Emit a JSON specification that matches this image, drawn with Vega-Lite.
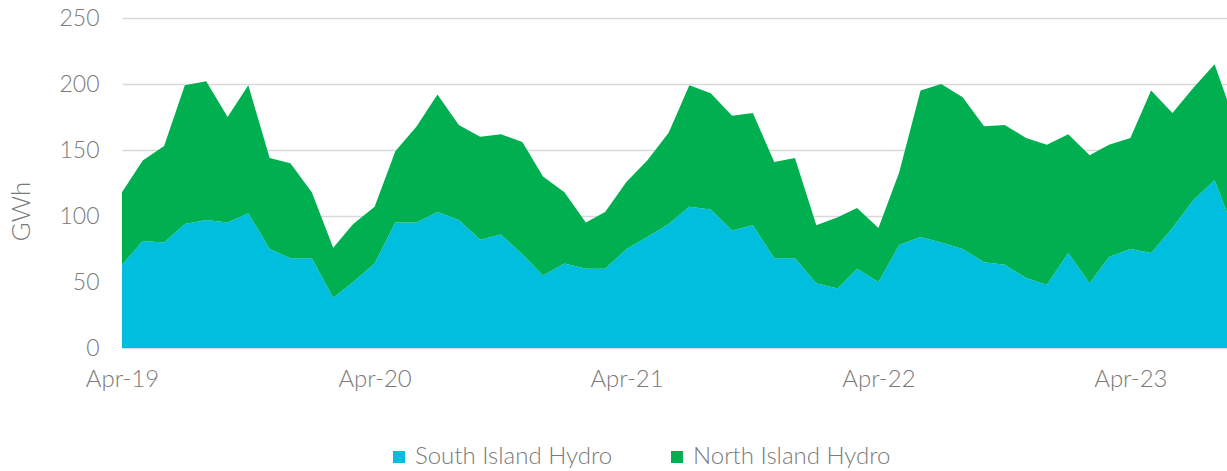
{
  "$schema": "https://vega.github.io/schema/vega-lite/v6.json",
  "autosize": {"type": "none"},
  "width": 1105,
  "height": 330,
  "padding": {"left": 122, "top": 18, "right": 0, "bottom": 123},
  "background": "white",
  "config": {
    "view": {"stroke": null},
    "font": "Lato",
    "axis": {"labelFont": "Lato", "labelFontWeight": 300, "labelColor": "#7a7a7a", "titleFont": "Lato", "titleFontWeight": 300, "titleColor": "#7a7a7a"},
    "legend": {"labelFont": "Lato", "labelFontWeight": 300, "labelColor": "#7a7a7a"}
  },
  "data": {
    "values": [
      {"month": "2019-04-01", "series": "South Island Hydro", "gwh": 63},
      {"month": "2019-05-01", "series": "South Island Hydro", "gwh": 81},
      {"month": "2019-06-01", "series": "South Island Hydro", "gwh": 80},
      {"month": "2019-07-01", "series": "South Island Hydro", "gwh": 94},
      {"month": "2019-08-01", "series": "South Island Hydro", "gwh": 97},
      {"month": "2019-09-01", "series": "South Island Hydro", "gwh": 95},
      {"month": "2019-10-01", "series": "South Island Hydro", "gwh": 102},
      {"month": "2019-11-01", "series": "South Island Hydro", "gwh": 75},
      {"month": "2019-12-01", "series": "South Island Hydro", "gwh": 68},
      {"month": "2020-01-01", "series": "South Island Hydro", "gwh": 68},
      {"month": "2020-02-01", "series": "South Island Hydro", "gwh": 38},
      {"month": "2020-03-01", "series": "South Island Hydro", "gwh": 50},
      {"month": "2020-04-01", "series": "South Island Hydro", "gwh": 64},
      {"month": "2020-05-01", "series": "South Island Hydro", "gwh": 95},
      {"month": "2020-06-01", "series": "South Island Hydro", "gwh": 95},
      {"month": "2020-07-01", "series": "South Island Hydro", "gwh": 103},
      {"month": "2020-08-01", "series": "South Island Hydro", "gwh": 97},
      {"month": "2020-09-01", "series": "South Island Hydro", "gwh": 82},
      {"month": "2020-10-01", "series": "South Island Hydro", "gwh": 86},
      {"month": "2020-11-01", "series": "South Island Hydro", "gwh": 71},
      {"month": "2020-12-01", "series": "South Island Hydro", "gwh": 55},
      {"month": "2021-01-01", "series": "South Island Hydro", "gwh": 64},
      {"month": "2021-02-01", "series": "South Island Hydro", "gwh": 60},
      {"month": "2021-03-01", "series": "South Island Hydro", "gwh": 60},
      {"month": "2021-04-01", "series": "South Island Hydro", "gwh": 75},
      {"month": "2021-05-01", "series": "South Island Hydro", "gwh": 84},
      {"month": "2021-06-01", "series": "South Island Hydro", "gwh": 94},
      {"month": "2021-07-01", "series": "South Island Hydro", "gwh": 107},
      {"month": "2021-08-01", "series": "South Island Hydro", "gwh": 105},
      {"month": "2021-09-01", "series": "South Island Hydro", "gwh": 89},
      {"month": "2021-10-01", "series": "South Island Hydro", "gwh": 93},
      {"month": "2021-11-01", "series": "South Island Hydro", "gwh": 68},
      {"month": "2021-12-01", "series": "South Island Hydro", "gwh": 68},
      {"month": "2022-01-01", "series": "South Island Hydro", "gwh": 49},
      {"month": "2022-02-01", "series": "South Island Hydro", "gwh": 45},
      {"month": "2022-03-01", "series": "South Island Hydro", "gwh": 60},
      {"month": "2022-04-01", "series": "South Island Hydro", "gwh": 50},
      {"month": "2022-05-01", "series": "South Island Hydro", "gwh": 78},
      {"month": "2022-06-01", "series": "South Island Hydro", "gwh": 84},
      {"month": "2022-07-01", "series": "South Island Hydro", "gwh": 80},
      {"month": "2022-08-01", "series": "South Island Hydro", "gwh": 75},
      {"month": "2022-09-01", "series": "South Island Hydro", "gwh": 65},
      {"month": "2022-10-01", "series": "South Island Hydro", "gwh": 63},
      {"month": "2022-11-01", "series": "South Island Hydro", "gwh": 53},
      {"month": "2022-12-01", "series": "South Island Hydro", "gwh": 48},
      {"month": "2023-01-01", "series": "South Island Hydro", "gwh": 72},
      {"month": "2023-02-01", "series": "South Island Hydro", "gwh": 49},
      {"month": "2023-03-01", "series": "South Island Hydro", "gwh": 69},
      {"month": "2023-04-01", "series": "South Island Hydro", "gwh": 75},
      {"month": "2023-05-01", "series": "South Island Hydro", "gwh": 72},
      {"month": "2023-06-01", "series": "South Island Hydro", "gwh": 91},
      {"month": "2023-07-01", "series": "South Island Hydro", "gwh": 112},
      {"month": "2023-08-01", "series": "South Island Hydro", "gwh": 127},
      {"month": "2023-09-01", "series": "South Island Hydro", "gwh": 85},
      {"month": "2019-04-01", "series": "North Island Hydro", "gwh": 55},
      {"month": "2019-05-01", "series": "North Island Hydro", "gwh": 61},
      {"month": "2019-06-01", "series": "North Island Hydro", "gwh": 73},
      {"month": "2019-07-01", "series": "North Island Hydro", "gwh": 105},
      {"month": "2019-08-01", "series": "North Island Hydro", "gwh": 105},
      {"month": "2019-09-01", "series": "North Island Hydro", "gwh": 80},
      {"month": "2019-10-01", "series": "North Island Hydro", "gwh": 97},
      {"month": "2019-11-01", "series": "North Island Hydro", "gwh": 69},
      {"month": "2019-12-01", "series": "North Island Hydro", "gwh": 72},
      {"month": "2020-01-01", "series": "North Island Hydro", "gwh": 50},
      {"month": "2020-02-01", "series": "North Island Hydro", "gwh": 38},
      {"month": "2020-03-01", "series": "North Island Hydro", "gwh": 44},
      {"month": "2020-04-01", "series": "North Island Hydro", "gwh": 43},
      {"month": "2020-05-01", "series": "North Island Hydro", "gwh": 54},
      {"month": "2020-06-01", "series": "North Island Hydro", "gwh": 73},
      {"month": "2020-07-01", "series": "North Island Hydro", "gwh": 89},
      {"month": "2020-08-01", "series": "North Island Hydro", "gwh": 72},
      {"month": "2020-09-01", "series": "North Island Hydro", "gwh": 78},
      {"month": "2020-10-01", "series": "North Island Hydro", "gwh": 76},
      {"month": "2020-11-01", "series": "North Island Hydro", "gwh": 85},
      {"month": "2020-12-01", "series": "North Island Hydro", "gwh": 75},
      {"month": "2021-01-01", "series": "North Island Hydro", "gwh": 54},
      {"month": "2021-02-01", "series": "North Island Hydro", "gwh": 35},
      {"month": "2021-03-01", "series": "North Island Hydro", "gwh": 43},
      {"month": "2021-04-01", "series": "North Island Hydro", "gwh": 51},
      {"month": "2021-05-01", "series": "North Island Hydro", "gwh": 58},
      {"month": "2021-06-01", "series": "North Island Hydro", "gwh": 69},
      {"month": "2021-07-01", "series": "North Island Hydro", "gwh": 92},
      {"month": "2021-08-01", "series": "North Island Hydro", "gwh": 88},
      {"month": "2021-09-01", "series": "North Island Hydro", "gwh": 87},
      {"month": "2021-10-01", "series": "North Island Hydro", "gwh": 85},
      {"month": "2021-11-01", "series": "North Island Hydro", "gwh": 73},
      {"month": "2021-12-01", "series": "North Island Hydro", "gwh": 76},
      {"month": "2022-01-01", "series": "North Island Hydro", "gwh": 44},
      {"month": "2022-02-01", "series": "North Island Hydro", "gwh": 54},
      {"month": "2022-03-01", "series": "North Island Hydro", "gwh": 46},
      {"month": "2022-04-01", "series": "North Island Hydro", "gwh": 41},
      {"month": "2022-05-01", "series": "North Island Hydro", "gwh": 55},
      {"month": "2022-06-01", "series": "North Island Hydro", "gwh": 111},
      {"month": "2022-07-01", "series": "North Island Hydro", "gwh": 120},
      {"month": "2022-08-01", "series": "North Island Hydro", "gwh": 115},
      {"month": "2022-09-01", "series": "North Island Hydro", "gwh": 103},
      {"month": "2022-10-01", "series": "North Island Hydro", "gwh": 106},
      {"month": "2022-11-01", "series": "North Island Hydro", "gwh": 106},
      {"month": "2022-12-01", "series": "North Island Hydro", "gwh": 106},
      {"month": "2023-01-01", "series": "North Island Hydro", "gwh": 90},
      {"month": "2023-02-01", "series": "North Island Hydro", "gwh": 97},
      {"month": "2023-03-01", "series": "North Island Hydro", "gwh": 85},
      {"month": "2023-04-01", "series": "North Island Hydro", "gwh": 84},
      {"month": "2023-05-01", "series": "North Island Hydro", "gwh": 123},
      {"month": "2023-06-01", "series": "North Island Hydro", "gwh": 87},
      {"month": "2023-07-01", "series": "North Island Hydro", "gwh": 85},
      {"month": "2023-08-01", "series": "North Island Hydro", "gwh": 88},
      {"month": "2023-09-01", "series": "North Island Hydro", "gwh": 84}
    ]
  },
  "mark": {"type": "area", "clip": true},
  "encoding": {
    "x": {
      "field": "month",
      "type": "temporal",
      "scale": {
        "type": "utc",
        "domain": [
          {"year": 2019, "month": 4, "date": 1, "utc": true},
          {"year": 2023, "month": 8, "date": 19, "utc": true}
        ]
      },
      "axis": {
        "title": null,
        "values": [
          {"year": 2019, "month": 4, "date": 1, "utc": true},
          {"year": 2020, "month": 4, "date": 1, "utc": true},
          {"year": 2021, "month": 4, "date": 1, "utc": true},
          {"year": 2022, "month": 4, "date": 1, "utc": true},
          {"year": 2023, "month": 4, "date": 1, "utc": true}
        ],
        "labelExpr": "utcFormat(datum.value, '%b-%y')",
        "grid": false,
        "domain": false,
        "ticks": false,
        "labelFontSize": 24,
        "labelPadding": 19,
        "labelAlign": "center",
        "labelFlush": false
      }
    },
    "y": {
      "field": "gwh",
      "type": "quantitative",
      "stack": "zero",
      "scale": {"domain": [0, 250], "nice": false},
      "axis": {
        "title": "GWh",
        "values": [0, 50, 100, 150, 200, 250],
        "grid": true,
        "gridColor": "#d9d9d9",
        "gridWidth": 1.5,
        "domain": false,
        "ticks": false,
        "labelFontSize": 23,
        "labelPadding": 23,
        "titleFontSize": 26,
        "titleAngle": -90,
        "titleX": -101,
        "titleY": 193,
        "titleAlign": "center",
        "titleBaseline": "middle"
      }
    },
    "color": {
      "field": "series",
      "type": "nominal",
      "sort": ["South Island Hydro", "North Island Hydro"],
      "scale": {
        "domain": ["South Island Hydro", "North Island Hydro"],
        "range": ["#00BFDE", "#00B050"]
      },
      "legend": {
        "title": null,
        "orient": "none",
        "direction": "horizontal",
        "legendX": 265,
        "legendY": 427,
        "symbolType": "square",
        "symbolSize": 144,
        "symbolStrokeWidth": 0,
        "labelFontSize": 24,
        "labelLimit": 400,
        "labelOffset": 4,
        "columnPadding": 52
      }
    },
    "order": {"field": "series", "sort": "descending"}
  }
}
